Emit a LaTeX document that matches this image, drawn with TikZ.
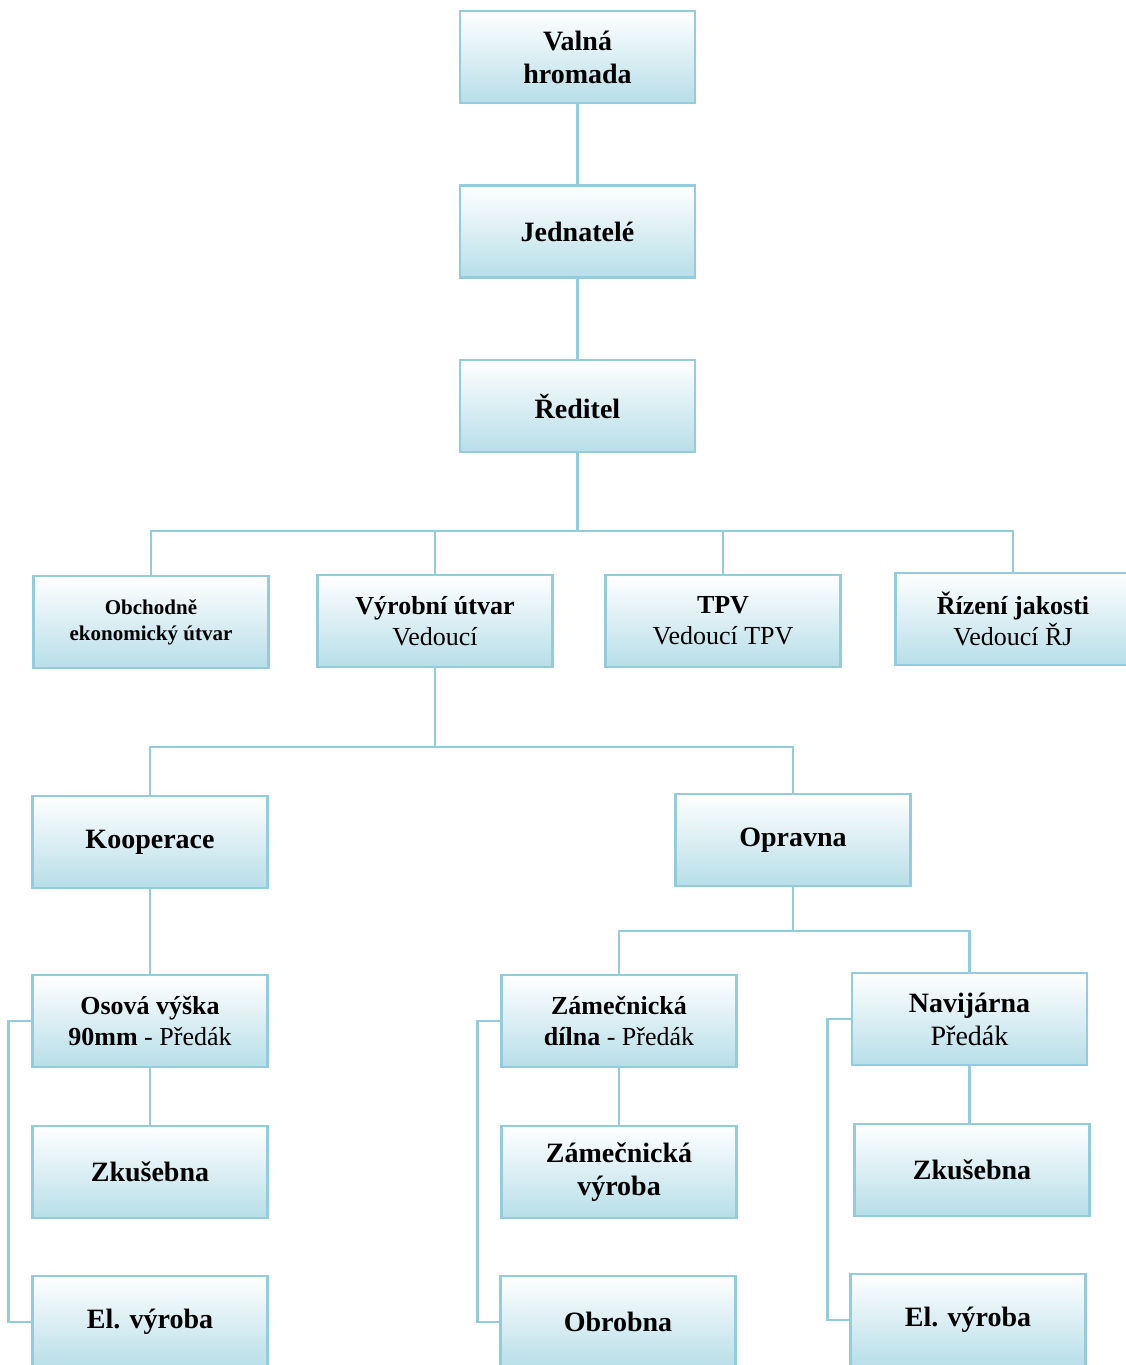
\documentclass[tikz,border=0pt]{standalone}
\usepackage{fontspec}
\setmainfont{Liberation Serif}
\definecolor{boxline}{RGB}{147,205,221}
\definecolor{boxfill}{RGB}{183,222,232}
\begin{document}
\begin{tikzpicture}[x=1pt,y=-1pt,
  orgbox/.style={draw=boxline, line width=2.6pt, top color=white, bottom color=boxfill,
    minimum width=235pt, minimum height=92pt, inner sep=2pt, align=center, text=black},
  bigfont/.style={font=\fontsize{28}{33}\selectfont},
  midfont/.style={font=\fontsize{26}{31}\selectfont},
  smallfont/.style={font=\fontsize{21}{26}\selectfont},
  conn/.style={draw=boxline, line width=2.6pt}]
\useasboundingbox (0,0) rectangle (1126,1365);
\clip (0,0) rectangle (1126,1365);
% level 1-3
\node[orgbox,bigfont] (valna) at (577.5,57) {\textbf{Valná}\\\textbf{hromada}};
\node[orgbox,bigfont] (jedn) at (577.5,231.5) {\textbf{Jednatelé}};
\node[orgbox,bigfont] (red) at (577.5,406) {\textbf{Ředitel}};
% level 4
\node[orgbox,smallfont] (obch) at (151,622) {\textbf{Obchodně}\\\textbf{ekonomický útvar}};
\node[orgbox,midfont] (vyr) at (435,621) {\textbf{Výrobní útvar}\\Vedoucí};
\node[orgbox,midfont] (tpv) at (723,621) {\textbf{TPV}\\Vedoucí TPV};
\node[orgbox,midfont] (rj) at (1013,619) {\textbf{Řízení jakosti}\\Vedoucí ŘJ};
% level 5
\node[orgbox,bigfont] (koop) at (150,842) {\raisebox{-3pt}{\textbf{Kooperace}}};
\node[orgbox,bigfont] (oprav) at (793,840) {\raisebox{-3pt}{\textbf{Opravna}}};
% level 6 left
\node[orgbox,midfont] (osova) at (150,1021) {\textbf{Osová výška}\\\textbf{90mm} - Předák};
\node[orgbox,bigfont] (zk1) at (150,1172) {\raisebox{-2pt}{\textbf{Zkušebna}}};
\node[orgbox,bigfont] (elv1) at (150,1322) {\raisebox{-2pt}{\textbf{El. výroba}}};
% level 6 middle
\node[orgbox,midfont] (zdil) at (619,1021) {\textbf{Zámečnická}\\\textbf{dílna} - Předák};
\node[orgbox,bigfont] (zvyr) at (619,1172) {\textbf{Zámečnická}\\\textbf{výroba}};
\node[orgbox,bigfont] (obr) at (618,1322) {\raisebox{-2pt}{\textbf{Obrobna}}};
% level 6 right
\node[orgbox,bigfont] (navi) at (969.5,1019) {\textbf{Navijárna}\\Předák};
\node[orgbox,bigfont] (zk2) at (972,1170) {\raisebox{-2pt}{\textbf{Zkušebna}}};
\node[orgbox,bigfont] (elv2) at (968,1320) {\raisebox{-2pt}{\textbf{El. výroba}}};
% bus coordinates
\coordinate (bus1) at (576,531);
\coordinate (bus2) at (433,747);
\coordinate (bus3) at (790,931);
% connectors
\draw[conn] (valna.south) -- (jedn.north);
\draw[conn] (jedn.south) -- (red.north);
\draw[conn] (red.south) -- (red.south |- bus1);
\draw[conn] (obch.north) -- (obch.north |- bus1) -- (rj.north |- bus1) -- (rj.north);
\draw[conn] (vyr.north) -- (vyr.north |- bus1);
\draw[conn] (tpv.north) -- (tpv.north |- bus1);
\draw[conn] (vyr.south) -- (vyr.south |- bus2);
\draw[conn] (koop.north) -- (koop.north |- bus2) -- (oprav.north |- bus2) -- (oprav.north);
\draw[conn] (koop.south) -- (osova.north);
\draw[conn] (osova.south) -- (zk1.north);
\draw[conn] (osova.west) -- ++(-23,0) |- (elv1.west);
\draw[conn] (oprav.south) -- (oprav.south |- bus3);
\draw[conn] (zdil.north) -- (zdil.north |- bus3) -- (navi.north |- bus3) -- (navi.north);
\draw[conn] (zdil.south) -- (zvyr.north);
\draw[conn] (zdil.west) -- ++(-23,0) |- (obr.west);
\draw[conn] (navi.south) -- (navi.south |- zk2.north);
\draw[conn] (navi.west) -- ++(-23,0) |- (elv2.west);
\end{tikzpicture}
\end{document}
